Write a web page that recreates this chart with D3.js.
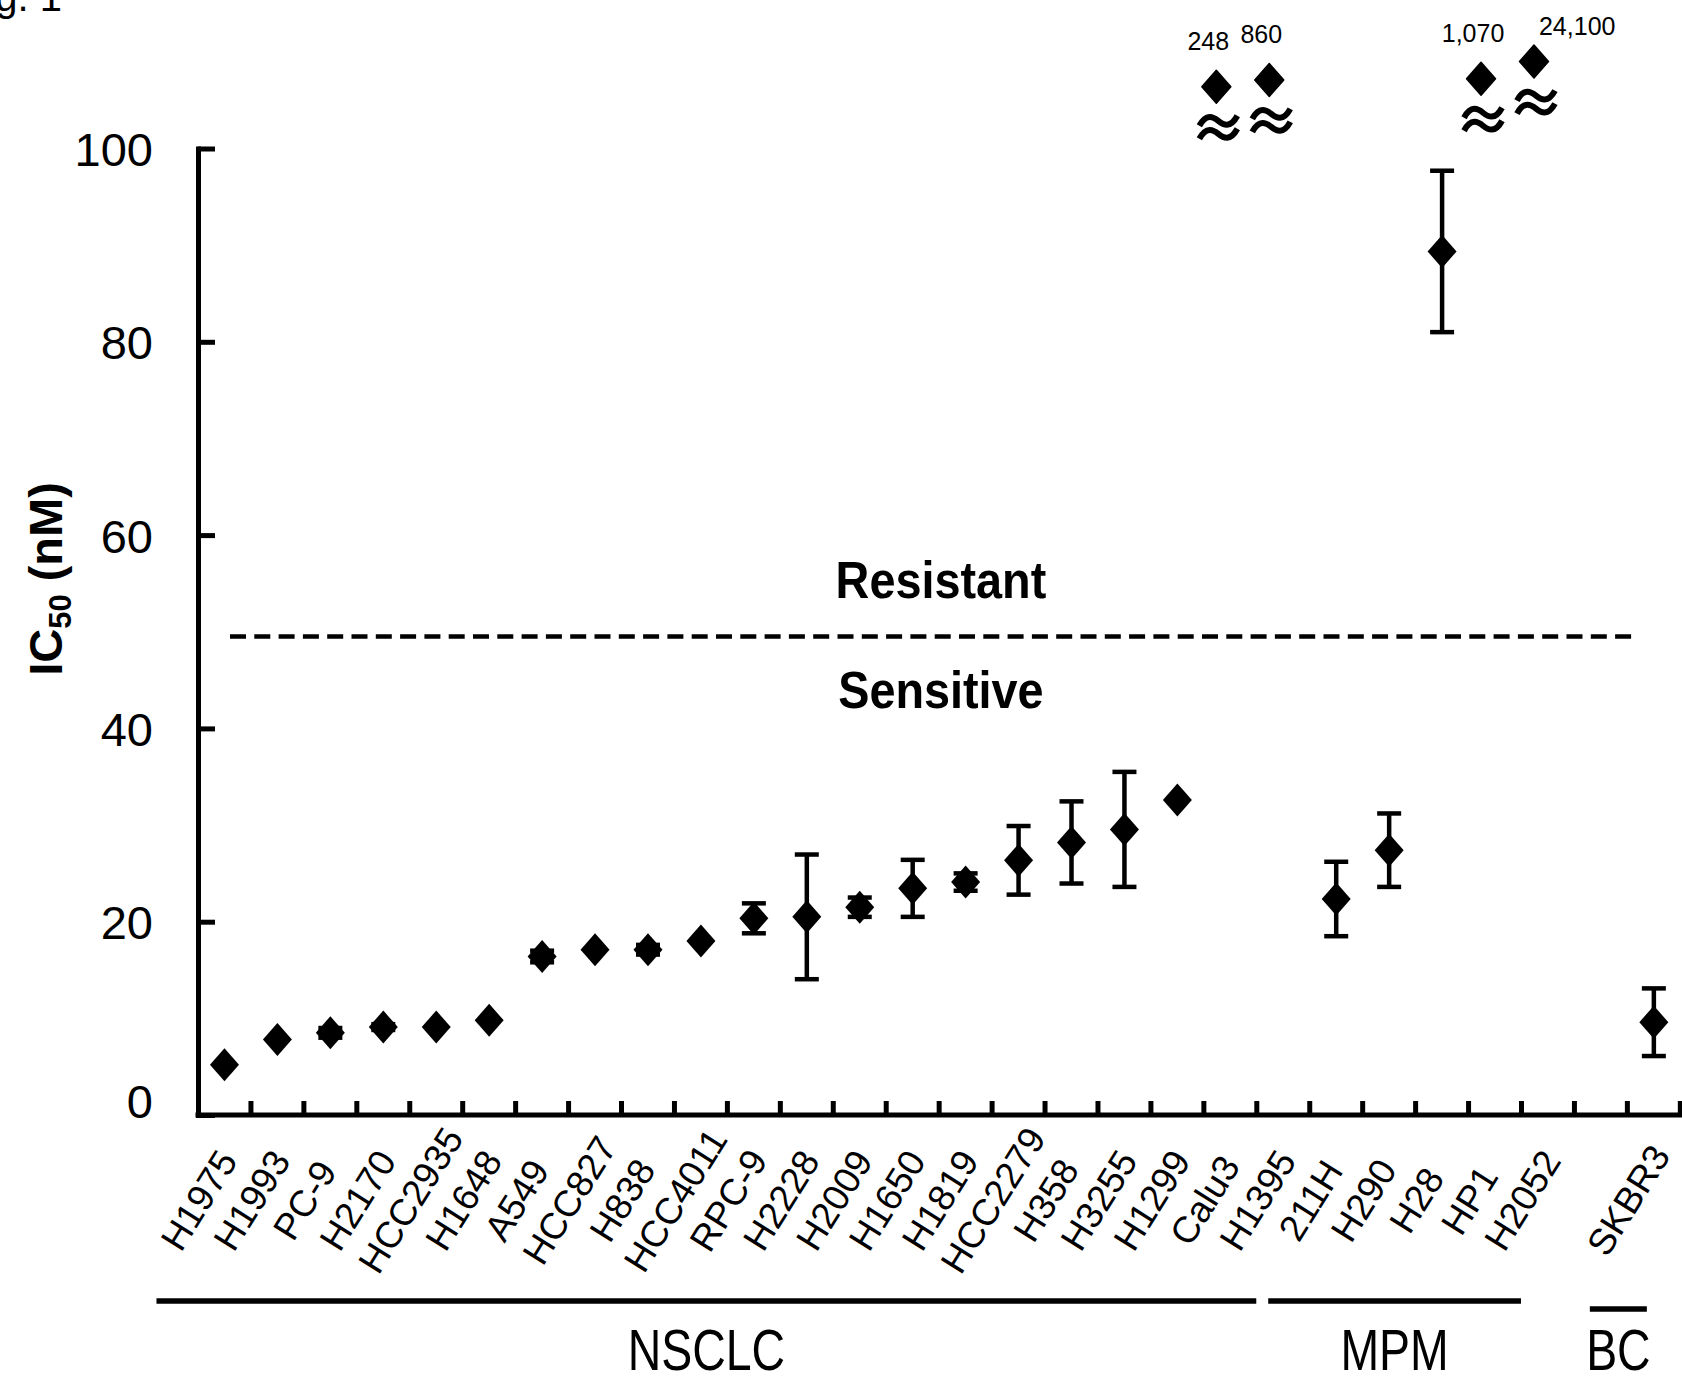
<!DOCTYPE html>
<meta charset="utf-8">
<style>
    body {
        margin: 0;
        background: #fff;
    }
    text {
        font-family: "Liberation Sans", Arial, sans-serif;
        fill: #000;
    }
    .axis path, .axis line {
        stroke: #000;
        stroke-width: 5;
    }
</style>
<body>
<script src="https://d3js.org/d3.v7.min.js"></script>
<script>
    // IC50 per cell line (nM); values above 100 are drawn on the broken part of the axis
    var cellLines = ["H1975", "H1993", "PC-9", "H2170", "HCC2935", "H1648", "A549", "HCC827", "H838", "HCC4011",
        "RPC-9", "H2228", "H2009", "H1650", "H1819", "HCC2279", "H358", "H3255", "H1299", "Calu3", "H1395",
        "211H", "H290", "H28", "HP1", "H2052", "SKBR3"];
    var ic50 = [5.2, 7.8, 8.5, 9.1, 9.1, 9.8, 16.4, 17.1, 17.1, 18.0,
        20.35, 20.5, 21.5, 23.45, 24.1, 26.35, 28.2, 29.55, 32.6, 248, 860,
        22.35, 27.4, 89.35, 1070, 24100, 9.6];
    var sem = [0, 0, 0.5, 0.3, 0, 0, 0.6, 0, 0.5, 0,
        1.55, 6.45, 1.0, 2.95, 0.9, 3.55, 4.25, 5.95, 0, 0, 0,
        3.85, 3.8, 8.35, 0, 0, 3.5];
    var groups = ["NSCLC", "MPM", "BC"];
    var groupFirst = ["H1975", "211H", "SKBR3"];
    var groupLast = ["H1395", "H2052", "SKBR3"];
    var yTicks = [0, 20, 40, 60, 80, 100];
    var threshold = 49.5;

    // axis slots: one empty slot between MPM and BC, one past SKBR3
    var slots = cellLines.slice(0, 26).concat(["gap", "SKBR3", "end"]);

    var width = 1682, height = 1378;
    var x0 = 198, step = 52.94;

    var svg = d3.select("body").append("svg")
        .attr("width", width)
        .attr("height", height);
    svg.append("rect").attr("width", width).attr("height", height).attr("fill", "#fff");

    var x = d3.scaleBand()
        .domain(slots)
        .range([x0, x0 + step * slots.length]);
    var y = d3.scaleLinear()
        .domain([0, 100])
        .range([1115, 148.5]);
    var yBreak = d3.scaleLog()
        .domain([100, 1e5])
        .range([91.8, 53.7]);
    var cx = function(name) { return x(name) + x.bandwidth() / 2; };
    var fmt = d3.format(",");

    // "Fig. 1" cut off at the top left
    svg.append("text")
        .attr("x", 62)
        .attr("y", 11)
        .attr("text-anchor", "end")
        .attr("font-size", 40)
        .text("Fig. 1");

    // y axis
    var yAxis = d3.axisLeft(y)
        .tickValues(yTicks)
        .tickSizeInner(-17)
        .tickSizeOuter(0)
        .tickPadding(45);
    var gy = svg.append("g")
        .attr("class", "axis")
        .attr("transform", "translate(" + x0 + ",0)")
        .call(yAxis);
    gy.attr("font-family", null).attr("font-size", null);
    gy.select(".domain").attr("stroke-linecap", "square");
    gy.selectAll("text")
        .attr("font-size", 47)
        .attr("dy", function(d) { return d === 0 ? "0em" : "0.36em"; })
        .attr("y", function(d) { return d === 0 ? 2 : 0; });

    svg.append("text")
        .attr("transform", "translate(62,579) rotate(-90)")
        .attr("text-anchor", "middle")
        .attr("font-size", 47)
        .attr("font-weight", "bold")
        .call(function(t) {
            t.append("tspan").text("IC");
            t.append("tspan").attr("font-size", 31).attr("dy", 9).text("50");
            t.append("tspan").attr("dy", -9).text(" (nM)");
        });

    // x axis with ticks between the cell lines
    var gx = svg.append("g").attr("class", "axis");
    gx.append("path")
        .attr("d", "M" + x0 + "," + y(0) + "H" + x.range()[1])
        .attr("fill", "none")
        .attr("stroke-linecap", "square");
    gx.selectAll("line")
        .data(slots.slice(1))
        .join("line")
        .attr("x1", function(d) { return x(d); })
        .attr("x2", function(d) { return x(d); })
        .attr("y1", y(0))
        .attr("y2", y(0) - 14);

    // threshold line
    var yT = y(threshold);
    var lineL = x0 + 32, lineR = cx("SKBR3") - 18;
    svg.append("line")
        .attr("x1", lineL)
        .attr("x2", lineR)
        .attr("y1", yT)
        .attr("y2", yT)
        .attr("stroke", "#000")
        .attr("stroke-width", 4.5)
        .attr("stroke-dasharray", "16,8.3");
    var midX = (lineL + lineR) / 2 + 8;
    svg.append("text")
        .attr("transform", "translate(" + midX + "," + (yT - 39) + ") scale(0.9,1)")
        .attr("text-anchor", "middle")
        .attr("font-size", 52)
        .attr("font-weight", "bold")
        .text("Resistant");
    svg.append("text")
        .attr("transform", "translate(" + midX + "," + (yT + 71) + ") scale(0.9,1)")
        .attr("text-anchor", "middle")
        .attr("font-size", 52)
        .attr("font-weight", "bold")
        .text("Sensitive");

    var points = cellLines.map(function(d, i) { return {name: d, v: ic50[i], e: sem[i]}; });
    var inRange = points.filter(function(d) { return d.v <= 100; });
    var broken = points.filter(function(d) { return d.v > 100; });

    var diamond = "M0,-16.5L14.5,0L0,16.5L-14.5,0Z";

    // error bars
    var eb = svg.append("g")
        .attr("stroke", "#000")
        .attr("stroke-width", 4.5)
        .selectAll("g")
        .data(inRange.filter(function(d) { return d.e > 0; }))
        .join("g")
        .attr("transform", function(d) { return "translate(" + cx(d.name) + ",0)"; });
    eb.append("line")
        .attr("y1", function(d) { return y(d.v - d.e); })
        .attr("y2", function(d) { return y(d.v + d.e); });
    eb.append("line")
        .attr("x1", -12).attr("x2", 12)
        .attr("y1", function(d) { return y(d.v + d.e); })
        .attr("y2", function(d) { return y(d.v + d.e); });
    eb.append("line")
        .attr("x1", -12).attr("x2", 12)
        .attr("y1", function(d) { return y(d.v - d.e); })
        .attr("y2", function(d) { return y(d.v - d.e); });

    svg.append("g")
        .selectAll("path")
        .data(inRange)
        .join("path")
        .attr("d", diamond)
        .attr("transform", function(d) { return "translate(" + cx(d.name) + "," + y(d.v) + ")"; })
        .attr("fill", "#000");

    // values off the scale
    var tilde = "M-19,5C-12,-8 -5,-4 0,0S12,8 19,-5";
    var bk = svg.append("g")
        .selectAll("g")
        .data(broken)
        .join("g")
        .attr("transform", function(d) { return "translate(" + (cx(d.name) - 14) + "," + yBreak(d.v) + ")"; });
    bk.append("path")
        .attr("d", diamond)
        .attr("fill", "#000")
        .attr("stroke", "#000")
        .attr("stroke-width", 1.5)
        .attr("stroke-linejoin", "round");
    bk.append("path")
        .attr("d", tilde)
        .attr("transform", "translate(2,34)")
        .attr("fill", "none")
        .attr("stroke", "#000")
        .attr("stroke-width", 6);
    bk.append("path")
        .attr("d", tilde)
        .attr("transform", "translate(2,47)")
        .attr("fill", "none")
        .attr("stroke", "#000")
        .attr("stroke-width", 6);
    bk.append("text")
        .attr("x", function(d) { return d.v > 10000 ? 5 : -8; })
        .attr("y", function(d) { return d.v > 10000 ? -27 : -37; })
        .attr("text-anchor", function(d) { return d.v > 10000 ? "start" : "middle"; })
        .attr("font-size", 25)
        .text(function(d) { return fmt(d.v); });

    // cell line labels
    svg.append("g")
        .selectAll("text")
        .data(cellLines)
        .join("text")
        .attr("transform", function(d) { return "translate(" + (cx(d) - 26) + ",1200) rotate(-58)"; })
        .attr("text-anchor", "middle")
        .attr("dy", "0.36em")
        .attr("font-size", 37)
        .text(function(d) { return d; });

    // group brackets
    var single = function(i) { return groupFirst[i] === groupLast[i]; };
    var bx1 = function(i) { return cx(groupFirst[i]) - (single(i) ? 64 : 68); };
    var bx2 = function(i) { return cx(groupLast[i]) - (single(i) ? 7 : 27); };
    var gg = svg.append("g")
        .selectAll("g")
        .data(groups)
        .join("g");
    gg.append("line")
        .attr("x1", function(d, i) { return bx1(i); })
        .attr("x2", function(d, i) { return bx2(i); })
        .attr("y1", function(d, i) { return single(i) ? 1309 : 1301; })
        .attr("y2", function(d, i) { return single(i) ? 1309 : 1301; })
        .attr("stroke", "#000")
        .attr("stroke-width", 5.5);
    gg.append("text")
        .attr("transform", function(d, i) {
            return "translate(" + (bx1(i) + bx2(i)) / 2 + ",1370) scale(0.8,1)";
        })
        .attr("text-anchor", "middle")
        .attr("font-size", 58)
        .text(function(d) { return d; });
</script>
